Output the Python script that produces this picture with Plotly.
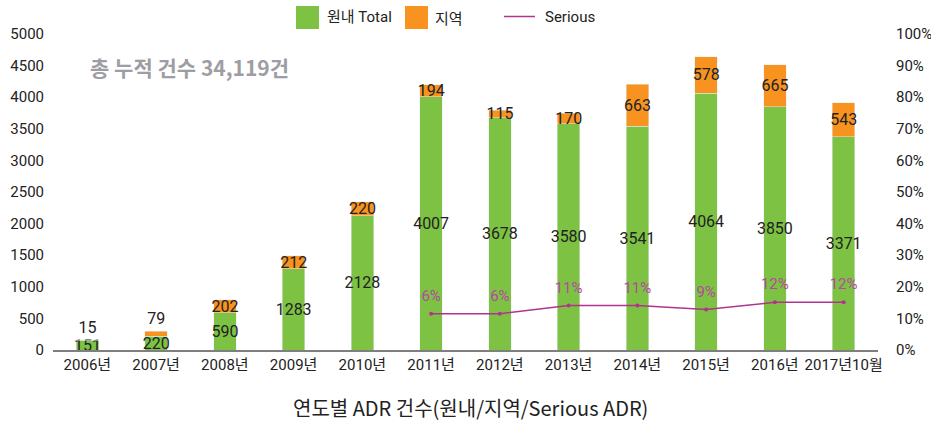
import plotly.graph_objects as go

categories = ["2006년", "2007년", "2008년", "2009년", "2010년", "2011년", "2012년",
              "2013년", "2014년", "2015년", "2016년", "2017년10월"]
hospital = [151, 220, 590, 1283, 2128, 4007, 3678, 3580, 3541, 4064, 3850, 3371]
regional = [15, 79, 202, 212, 220, 194, 115, 170, 663, 578, 665, 543]
serious_cats = categories[5:]
serious_line = [0.115, 0.115, 0.141, 0.141, 0.128, 0.151, 0.151]
serious_labels = ["6%", "6%", "11%", "11%", "9%", "12%", "12%"]

GREEN = "#7DC242"
ORANGE = "#F7931E"
PURPLE = "#B1338F"
PURPLE_TXT = "#B548A2"
FONT = "Roboto, Noto Sans CJK KR, sans-serif"
KFONT = "Noto Sans CJK KR, Roboto, sans-serif"

total = sum(hospital) + sum(regional)

fig = go.Figure()
fig.add_trace(go.Bar(
    x=categories, y=hospital, name="원내 Total", marker_color=GREEN,
    width=0.33, text=[str(v) for v in hospital], textposition="inside",
    insidetextanchor="middle", constraintext="none", textangle=0,
    textfont=dict(family=FONT, size=16, color="#222222"), showlegend=False,
    cliponaxis=False,
))
orange_pos = ["outside" if v < 100 else "inside" for v in regional]
fig.add_trace(go.Bar(
    x=categories, y=regional, name="지역", marker_color=ORANGE,
    width=0.33, text=[str(v) for v in regional], textposition=orange_pos,
    insidetextanchor="middle", constraintext="none", textangle=0,
    textfont=dict(family=FONT, size=16, color="#222222"), showlegend=False,
    cliponaxis=False,
))
fig.add_trace(go.Scatter(
    x=serious_cats, y=serious_line, name="Serious", yaxis="y2",
    mode="lines+markers", line=dict(color=PURPLE, width=1.5),
    marker=dict(size=4, color=PURPLE), showlegend=False,
))
fig.add_trace(go.Scatter(
    x=serious_cats, y=serious_line, yaxis="y2", mode="markers+text",
    marker=dict(size=13, color="rgba(0,0,0,0)"), text=serious_labels,
    textposition="top center", textfont=dict(family=FONT, size=15, color=PURPLE_TXT),
    showlegend=False, hoverinfo="skip",
))

fig.update_layout(
    width=931, height=423,
    margin=dict(l=53, r=53, t=34, b=73, autoexpand=False),
    barmode="stack",
    plot_bgcolor="white", paper_bgcolor="white",
    font=dict(family=FONT, size=15, color="#222222"),
    xaxis=dict(showgrid=False, showline=True, linecolor="#7f7f7f", linewidth=1.5,
               ticks="", automargin=False, range=[-0.5, len(categories) - 0.5],
               tickfont=dict(family=FONT, size=15, color="#222222")),
    yaxis=dict(range=[0, 5000], dtick=500, showgrid=False, zeroline=False,
               showline=False, ticks="", ticklabelstandoff=8, automargin=False,
               tickfont=dict(family=FONT, size=15, color="#222222")),
    yaxis2=dict(range=[0, 1], dtick=0.1, tickformat=".0%", overlaying="y", side="right",
                showgrid=False, zeroline=False, showline=False, ticks="",
                ticklabelstandoff=17, automargin=False,
                tickfont=dict(family=FONT, size=15, color="#222222")),
    showlegend=False,
)

def px_x(p):
    return (p - 53) / 825

def px_y(p):
    return (350 - p) / 316

shapes = [
    dict(type="rect", xref="paper", yref="paper", x0=px_x(296), x1=px_x(319),
         y0=px_y(29), y1=px_y(6), fillcolor=GREEN, line=dict(width=0)),
    dict(type="rect", xref="paper", yref="paper", x0=px_x(405), x1=px_x(428),
         y0=px_y(29), y1=px_y(6), fillcolor=ORANGE, line=dict(width=0)),
    dict(type="line", xref="paper", yref="paper", x0=px_x(504), x1=px_x(535),
         y0=px_y(16.5), y1=px_y(16.5), line=dict(color=PURPLE, width=1.5)),
]
annotations = [
    dict(xref="paper", yref="paper", x=px_x(325), y=px_y(17.5), xanchor="left", yanchor="middle",
         text="원내 Total", showarrow=False, font=dict(family=FONT, size=15, color="#222222")),
    dict(xref="paper", yref="paper", x=px_x(433), y=px_y(17.5), xanchor="left", yanchor="middle",
         text="지역", showarrow=False, font=dict(family=KFONT, size=15, color="#222222")),
    dict(xref="paper", yref="paper", x=px_x(543), y=px_y(17.5), xanchor="left", yanchor="middle",
         text="Serious", showarrow=False, font=dict(family=FONT, size=15, color="#222222")),
    dict(xref="paper", yref="paper", x=px_x(88), y=px_y(67), xanchor="left", yanchor="middle",
         text=f"<b>총 누적 건수 {total:,}건</b>", showarrow=False,
         font=dict(family=KFONT, size=21, color="#9D9DA3")),
    dict(xref="paper", yref="paper", x=px_x(470), y=px_y(407), xanchor="center", yanchor="middle",
         text="연도별 ADR 건수(원내/지역/Serious ADR)", showarrow=False,
         font=dict(family=KFONT, size=20, color="#222222")),
]
fig.update_layout(shapes=shapes, annotations=annotations)

fig.write_html("out.html")
